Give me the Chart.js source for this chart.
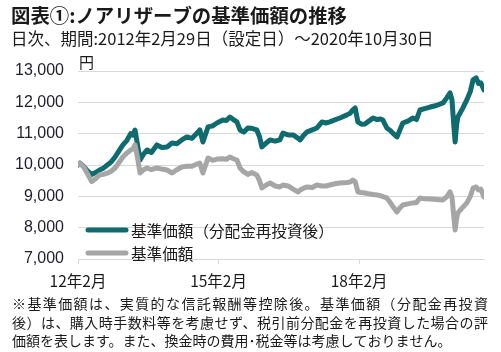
<!DOCTYPE html>
<html>
<head>
<meta charset="utf-8">
<script src="https://cdn.jsdelivr.net/npm/chart.js@4/dist/chart.umd.min.js"></script>
<style>
  html, body { margin: 0; padding: 0; background: #fff; }
  #wrap { width: 501px; height: 352px; }
</style>
</head>
<body>
<div id="wrap"><canvas id="navChart" width="501" height="352"></canvas></div>
<script>
// months since 2012-02-29 (setup date)
const months = [0, 0.5, 1.5, 2.5, 3.5, 4.5, 5.5, 6.5, 7.5, 8.5, 9.5, 10.5, 11.5, 12.5, 13.5, 14.1, 14.6, 15.3, 15.9, 16.8,
	17.7, 18.8, 20.2, 21.5, 22.8, 24.1, 25.3, 26.6, 27.9, 29.2, 30.5, 31.2, 32.0, 33.3, 34.5, 35.6, 37.1, 38.0, 38.9, 39.8,
	40.7, 41.5, 42.5, 43.5, 44.5, 45.8, 46.5, 47.1, 48.2, 49.2, 50.5, 51.7, 52.5, 53.8, 55.1, 56.4, 56.9, 57.8, 58.7, 60.0,
	61.2, 62.5, 63.5, 64.5, 65.8, 67.1, 68.9, 69.7, 70.4, 71.0, 71.7, 72.6, 73.5, 74.5, 75.6, 76.6, 77.5, 78.1, 79.1, 80.0,
	80.8, 81.7, 82.4, 83.2, 84.5, 85.8, 86.7, 87.6, 88.8, 90.2, 91.8, 93.5, 94.5, 95.3, 95.8, 96.3, 96.6, 97.0, 97.3, 98.5,
	99.6, 100.5, 101.2, 102.0, 102.6, 103.2, 104.0];

// 基準価額（分配金再投資後）
const navReinvested = [10000, 10060, 9950, 9800, 9700, 9760, 9840, 9900, 10000, 10100, 10256, 10450, 10640, 10780, 11000, 10950, 11118, 10600, 10160, 10350,
	10480, 10400, 10640, 10560, 10575, 10700, 10680, 10800, 10895, 10850, 11020, 11118, 10735, 11215, 11250, 11340, 11435, 11420, 11530, 11450,
	11375, 11118, 11050, 11180, 11170, 11118, 10900, 10575, 10700, 10800, 10760, 10800, 11020, 10960, 10960, 10850, 10800, 10950, 11055, 11120,
	11180, 11375, 11340, 11375, 11440, 11500, 11600, 11650, 11760, 11820, 11375, 11300, 11310, 11400, 11500, 11450, 11470, 11435, 11180, 11100,
	11000, 10895, 11100, 11340, 11400, 11500, 11450, 11755, 11800, 11850, 11900, 11980, 12150, 12300, 12075, 11200, 10735, 11300, 11530, 11800,
	12075, 12350, 12715, 12780, 12600, 12620, 12395];

// 基準価額
const nav = [10000, 10060, 9930, 9700, 9470, 9560, 9680, 9700, 9740, 9800, 9905, 10080, 10256, 10380, 10480, 10520, 10640, 10200, 9745, 9850,
	9905, 9850, 9905, 9870, 9840, 9745, 9850, 9935, 9960, 9960, 10030, 10064, 9745, 10224, 10150, 10190, 10200, 10180, 10256, 10200,
	10160, 9905, 9780, 9700, 9760, 9680, 9500, 9265, 9360, 9425, 9330, 9300, 9360, 9330, 9230, 9140, 9200, 9260, 9300, 9280,
	9360, 9330, 9330, 9360, 9400, 9425, 9440, 9458, 9520, 9470, 9140, 9120, 9105, 9080, 9060, 9045, 9020, 8990, 8950, 8800,
	8650, 8500, 8620, 8725, 8760, 8790, 8800, 8950, 8920, 8915, 8900, 8885, 8990, 9140, 8980, 8300, 7925, 8300, 8470, 8640,
	8790, 9000, 9265, 9300, 9200, 9230, 8980];

const tickMonths = [0, 36, 72];
const tickLabels = ['12年2月', '15年2月', '18年2月'];

const titleText = '図表①:ノアリザーブの基準価額の推移';
const subtitleText = '日次、期間:2012年2月29日（設定日）～2020年10月30日';
const unitText = '円';
const noteLines = [
	'※基準価額は、実質的な信託報酬等控除後。基準価額（分配金再投資',
	'後）は、購入時手数料等を考慮せず、税引前分配金を再投資した場合の評',
	'価額を表します。また、換金時の費用･税金等は考慮しておりません。'
];

const TEAL = '#106b6e';
const GRAY = '#a6a6a6';
const JP = "'Noto Sans CJK JP', sans-serif";

function toPoints(vals) {
	return vals.map((v, i) => ({ x: months[i], y: v }));
}

// text outside the plot + legend inside the plot
const textPlugin = {
	id: 'textPlugin',
	afterDraw(chart) {
		const ctx = chart.ctx;
		const area = chart.chartArea;
		ctx.save();
		ctx.fillStyle = '#1a1a1a';
		ctx.textBaseline = 'middle';
		ctx.textAlign = 'left';

		ctx.font = 'bold 19.4px ' + JP;
		ctx.fillText(titleText, 11, 16);
		ctx.font = '16.5px ' + JP;
		ctx.fillText(subtitleText, 11, 39, 424);
		ctx.font = '15px ' + JP;
		ctx.fillText(unitText, area.left + 1, 62);

		// legend (teal listed first, gray second)
		const legendRows = [chart.data.datasets[1], chart.data.datasets[0]];
		legendRows.forEach((ds, i) => {
			const y = 230 + i * 23;
			ctx.strokeStyle = ds.borderColor;
			ctx.lineWidth = 5;
			ctx.lineCap = 'round';
			ctx.beginPath();
			ctx.moveTo(area.left + 10, y);
			ctx.lineTo(area.left + 48, y);
			ctx.stroke();
			ctx.font = '15.6px ' + JP;
			ctx.fillText(ds.label, area.left + 53, y + 1);
		});

		// footnote, first two lines justified
		ctx.font = '14px ' + JP;
		noteLines.forEach((line, i) => {
			const y = 304 + i * 18.5;
			if (i < 2 && 'letterSpacing' in ctx) {
				const w = ctx.measureText(line).width;
				const n = [...line].length;
				ctx.letterSpacing = ((476 - w) / (n - 1)) + 'px';
				ctx.fillText(line, 12, y);
				ctx.letterSpacing = '0px';
			} else {
				ctx.fillText(line, 12, y);
			}
		});
		ctx.restore();
	}
};

const ctx = document.getElementById('navChart').getContext('2d');
const navChart = new Chart(ctx, {
	type: 'line',
	data: {
		datasets: [{
			label: '基準価額',
			data: toPoints(nav),
			borderColor: GRAY,
			borderWidth: 5,
			pointRadius: 0,
			tension: 0,
			borderJoinStyle: 'round',
			borderCapStyle: 'round'
		}, {
			label: '基準価額（分配金再投資後）',
			data: toPoints(navReinvested),
			borderColor: TEAL,
			borderWidth: 5,
			pointRadius: 0,
			tension: 0,
			borderJoinStyle: 'round',
			borderCapStyle: 'round'
		}]
	},
	options: {
		responsive: false,
		animation: false,
		layout: {
			padding: { top: 71, right: 17, bottom: 60, left: 0 }
		},
		scales: {
			x: {
				type: 'linear',
				min: 0,
				max: 104,
				afterBuildTicks: (scale) => {
					scale.ticks = tickMonths.map(v => ({ value: v }));
				},
				afterFit: (scale) => { scale.height = 33; },
				ticks: {
					autoSkip: false,
					maxRotation: 0,
					padding: 8,
					color: '#1a1a1a',
					font: { family: JP, size: 15.5 },
					callback: (value) => tickLabels[tickMonths.indexOf(value)]
				},
				grid: {
					drawOnChartArea: false,
					drawTicks: true,
					tickLength: 5,
					color: '#d9d9d9'
				},
				border: { display: true, color: '#d9d9d9' }
			},
			y: {
				min: 7000,
				max: 13000,
				afterFit: (scale) => { scale.width = 78; },
				ticks: {
					stepSize: 1000,
					padding: 14,
					color: '#1e1e2a',
					font: { family: "'Liberation Sans', Arial, sans-serif", size: 16 },
					callback: (value) => value.toLocaleString('en-US')
				},
				grid: {
					color: '#d9d9d9',
					drawTicks: false
				},
				border: { display: false }
			}
		},
		plugins: {
			legend: { display: false },
			title: { display: false },
			tooltip: { enabled: false }
		}
	},
	plugins: [textPlugin]
});
</script>
</body>
</html>
